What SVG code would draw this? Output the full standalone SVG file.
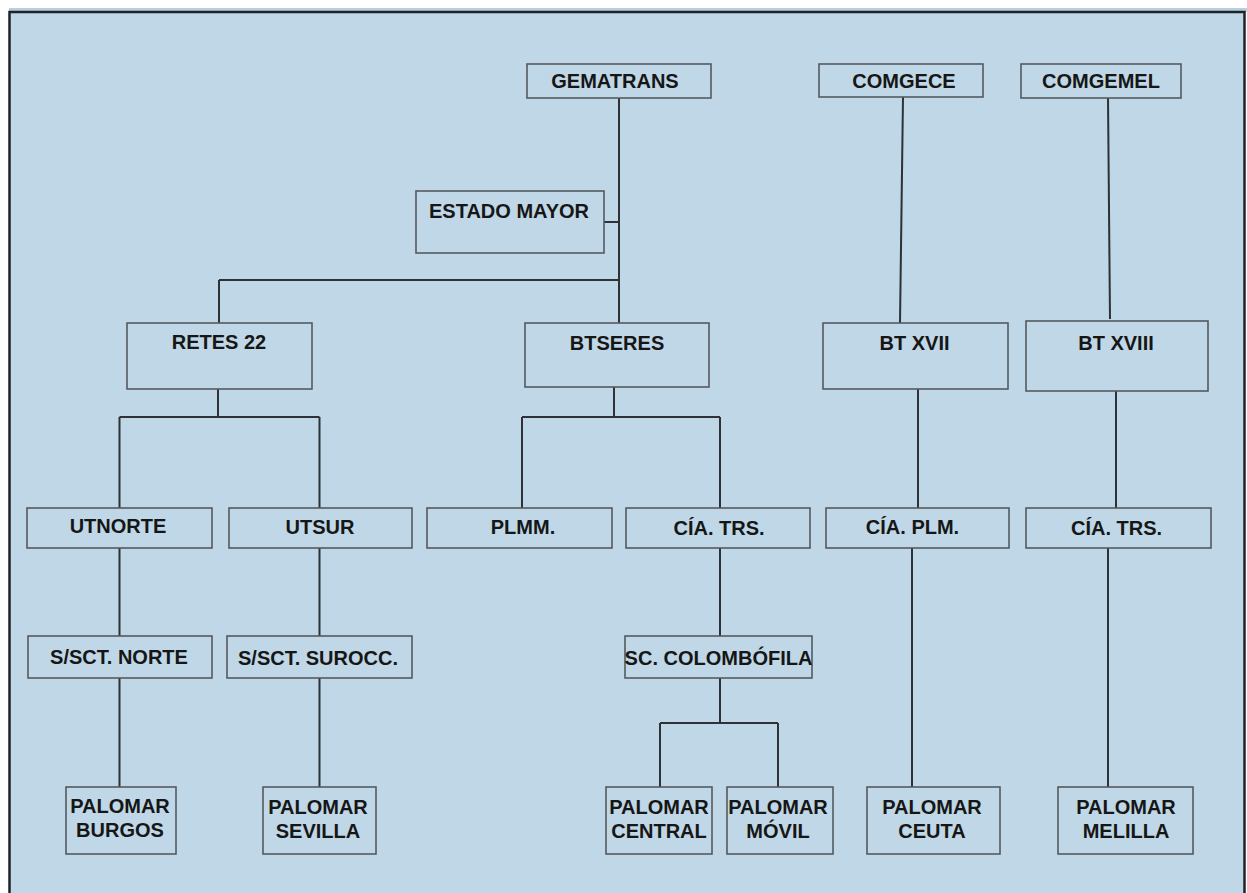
<svg xmlns="http://www.w3.org/2000/svg" width="1247" height="893" viewBox="0 0 1247 893">
<style>
.box{fill:#bfd7e6;stroke:#555a5e;stroke-width:1.6}
.t{font-family:"Liberation Sans",Arial,sans-serif;font-weight:bold;font-size:20px;fill:#161616;text-anchor:middle}
.c{fill:none;stroke:#2e3236;stroke-width:2}
</style>
<rect x="0" y="0" width="1247" height="893" fill="#ffffff"/>
<rect x="9" y="8" width="1238" height="4" fill="#b5d0e3"/>
<rect id="frame" x="9.5" y="12" width="1235" height="900" fill="#bfd7e6" stroke="#1f2326" stroke-width="2.5"/>
<g id="connectors">
<path class="c" d="M619 98 V323"/>
<path class="c" d="M604 222 H619"/>
<path class="c" d="M219 280 H619 M219 280 V323"/>
<path class="c" d="M903 97 L900 323"/>
<path class="c" d="M1108 98 L1110 319"/>
<path class="c" d="M218 389 V417 M119.5 417 H319.5 M119.5 417 V508 M319.5 417 V508"/>
<path class="c" d="M614 387 V417 M522 417 H720 M522 417 V508 M720 417 V508"/>
<path class="c" d="M918 389 V508"/>
<path class="c" d="M1116 391 V508"/>
<path class="c" d="M119.5 548 V636 M319.5 548 V636"/>
<path class="c" d="M720 548 V636"/>
<path class="c" d="M119.5 678 V787 M319.5 678 V787"/>
<path class="c" d="M720 678 V723 M660 723 H778 M660 723 V787 M778 723 V787"/>
<path class="c" d="M912 548 V787"/>
<path class="c" d="M1108 548 V787"/>
</g>
<g id="gematrans"><rect class="box" x="527" y="64" width="184" height="34"/><text class="t" x="615" y="88">GEMATRANS</text></g>
<g id="comgece"><rect class="box" x="819" y="64" width="164" height="33"/><text class="t" x="904" y="88">COMGECE</text></g>
<g id="comgemel"><rect class="box" x="1021" y="64" width="160" height="34"/><text class="t" x="1101" y="88">COMGEMEL</text></g>
<g id="estado-mayor"><rect class="box" x="416" y="191" width="188" height="62"/><text class="t" x="509" y="218">ESTADO MAYOR</text></g>
<g id="retes22"><rect class="box" x="127" y="323" width="185" height="66"/><text class="t" x="219" y="349">RETES 22</text></g>
<g id="btseres"><rect class="box" x="525" y="323" width="184" height="64"/><text class="t" x="617" y="350">BTSERES</text></g>
<g id="btxvii"><rect class="box" x="823" y="323" width="185" height="66"/><text class="t" x="914.5" y="350">BT XVII</text></g>
<g id="btxviii"><rect class="box" x="1026" y="321" width="182" height="70"/><text class="t" x="1116" y="350">BT XVIII</text></g>
<g id="utnorte"><rect class="box" x="27" y="508" width="185" height="40"/><text class="t" x="118" y="533">UTNORTE</text></g>
<g id="utsur"><rect class="box" x="229" y="508" width="183" height="40"/><text class="t" x="320" y="534">UTSUR</text></g>
<g id="plmm"><rect class="box" x="427" y="508" width="185" height="40"/><text class="t" x="523" y="534">PLMM.</text></g>
<g id="cia-trs-1"><rect class="box" x="626" y="508" width="184" height="40"/><text class="t" x="719" y="535">CÍA. TRS.</text></g>
<g id="cia-plm"><rect class="box" x="826" y="508" width="183" height="40"/><text class="t" x="912.5" y="534">CÍA. PLM.</text></g>
<g id="cia-trs-2"><rect class="box" x="1026" y="508" width="185" height="40"/><text class="t" x="1116.5" y="535">CÍA. TRS.</text></g>
<g id="ssct-norte"><rect class="box" x="28" y="636" width="184" height="42"/><text class="t" x="119" y="664">S/SCT. NORTE</text></g>
<g id="ssct-surocc"><rect class="box" x="227" y="636" width="185" height="42"/><text class="t" x="318" y="665">S/SCT. SUROCC.</text></g>
<g id="sc-colombofila"><rect class="box" x="625" y="636" width="187" height="42"/><text class="t" x="718.5" y="665">SC. COLOMBÓFILA</text></g>
<g id="palomar-burgos"><rect class="box" x="66" y="787" width="110" height="67"/><text class="t" x="120" y="813">PALOMAR</text><text class="t" x="120" y="837">BURGOS</text></g>
<g id="palomar-sevilla"><rect class="box" x="263" y="787" width="113" height="67"/><text class="t" x="318" y="814">PALOMAR</text><text class="t" x="318" y="838">SEVILLA</text></g>
<g id="palomar-central"><rect class="box" x="606" y="787" width="106" height="67"/><text class="t" x="659" y="814">PALOMAR</text><text class="t" x="659" y="838">CENTRAL</text></g>
<g id="palomar-movil"><rect class="box" x="727" y="787" width="106" height="67"/><text class="t" x="778" y="814">PALOMAR</text><text class="t" x="778" y="838">MÓVIL</text></g>
<g id="palomar-ceuta"><rect class="box" x="867" y="787" width="133" height="67"/><text class="t" x="932" y="814">PALOMAR</text><text class="t" x="932" y="838">CEUTA</text></g>
<g id="palomar-melilla"><rect class="box" x="1058" y="787" width="135" height="67"/><text class="t" x="1126" y="814">PALOMAR</text><text class="t" x="1126" y="838">MELILLA</text></g>
</svg>
